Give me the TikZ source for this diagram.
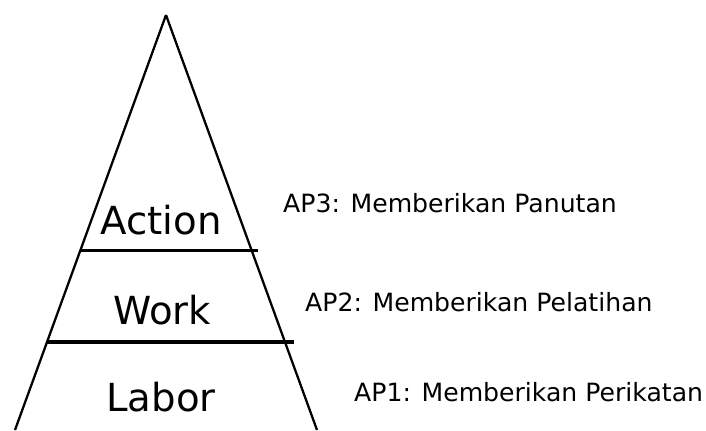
\documentclass[tikz,border=0pt]{standalone}
\usepackage{fontspec}
\setmainfont{DejaVu Sans}
\usetikzlibrary{positioning}

\begin{document}
\begin{tikzpicture}[x=0.02cm,y=-0.02cm]
    % pyramid of levels
    \tikzset{level/.style = {font=\fontsize{22}{26}\selectfont}}
    \tikzset{note/.style = {anchor=west,font=\fontsize{14.3}{17}\selectfont}}
    \tikzset{side/.style = {line width=1.3pt}}
    \tikzset{cut/.style = {line width=1.9pt}}

    \useasboundingbox (0,0) rectangle (706,430);

    % outline
    \coordinate (top)   at (166,15);
    \coordinate (left)  at (15,430);
    \coordinate (right) at (317,430);
    \draw[side] (top) -- (left);
    \draw[side] (top) -- (right);

    % dividers
    \coordinate (c1l) at (80,250.5);
    \coordinate (c1r) at (258,250.5);
    \coordinate (c2l) at (47,342);
    \coordinate (c2r) at (294,342);
    \draw[cut] (c1l) -- (c1r);
    \draw[cut] (c2l) -- (c2r);

    % levels
    \node[level] (action) at (161,220) {Action};
    \node[level] (work)   at (162,310) {Work};
    \node[level] (labor)  at (161,397) {Labor};

    % notes
    \node[note] (ap3) at (277,203) {AP3: Memberikan Panutan};
    \node[note] (ap2) at (299,302) {AP2: Memberikan Pelatihan};
    \node[note] (ap1) at (348,392) {AP1: Memberikan Perikatan};
\end{tikzpicture}
\end{document}
